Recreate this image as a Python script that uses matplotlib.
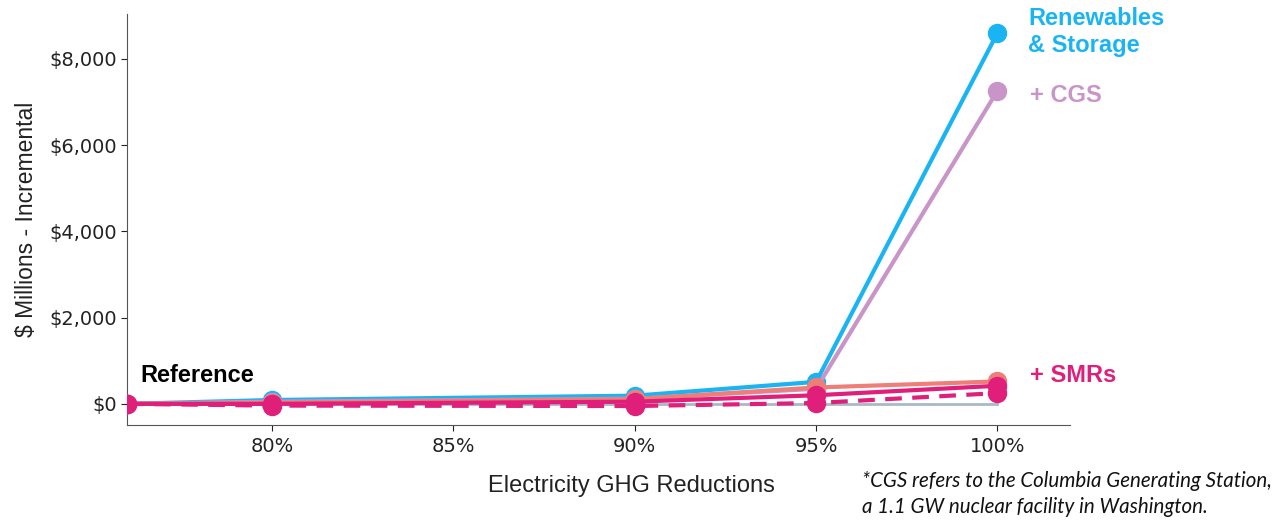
import matplotlib.pyplot as plt
from matplotlib.ticker import FuncFormatter

# x positions: first point is the reference case
reductions = [76, 80, 90, 95, 100]
tick_values = [80, 85, 90, 95, 100]
tick_labels = ["80%", "85%", "90%", "95%", "100%"]

reference = [0, 0, 0, 0, 0]
renewables_storage = [0, 90, 190, 510, 8600]
plus_cgs = [0, 50, 120, 350, 7260]
smr_a = [0, 30, 110, 380, 520]
smr_b = [0, 0, 50, 200, 420]
smr_c = [0, -40, -50, 20, 250]

blue = "#1AB4F3"
lilac = "#C994C8"
salmon = "#EE7E78"
magenta = "#E01F7B"
grey = "#A9B9C6"

fig = plt.figure(figsize=(12.86, 5.21), dpi=100)
ax = fig.add_axes([127 / 1286, 1 - 425 / 521, (1070 - 127) / 1286, (425 - 14) / 521])

ax.plot(reductions, reference, color=grey, lw=2, zorder=2)
ax.plot(reductions, renewables_storage, color=blue, lw=3, marker="o", ms=13, zorder=3)
ax.plot(reductions, plus_cgs, color=lilac, lw=3, marker="o", ms=13, zorder=4)
ax.plot(reductions, smr_a, color=salmon, lw=3, marker="o", ms=13, zorder=5)
ax.plot(reductions, smr_b, color=magenta, lw=3, marker="o", ms=13, zorder=6)
ax.plot(reductions, smr_c, color=magenta, lw=3, ls=(0, (4, 2.5)), marker="o", ms=13, zorder=7)

ax.set_xlim(76, 102)
ax.set_ylim(-490, 9040)
ax.set_xticks(tick_values)
ax.set_xticklabels(tick_labels)
ax.set_yticks([0, 2000, 4000, 6000, 8000])
ax.yaxis.set_major_formatter(FuncFormatter(lambda v, p: "${:,.0f}".format(v)))
ax.tick_params(labelsize=14, colors="#222222", length=4)
ax.tick_params(axis="x", pad=5)

for side in ["top", "right"]:
    ax.spines[side].set_visible(False)
for side in ["left", "bottom"]:
    ax.spines[side].set_color("#555555")

ax.set_xlabel("Electricity GHG Reductions", fontsize=17, family="Liberation Sans", color="#222222")
ax.xaxis.set_label_coords((631 - 127) / 943, (425 - 486) / 411)
ax.xaxis.label.set_va("center")
ax.set_ylabel("$ Millions - Incremental", fontsize=16.5, family="Liberation Sans", color="#222222", labelpad=8)

lab = dict(fontsize=17, fontweight="bold", family="Liberation Sans", va="center")
fig.text(140 / 1286, 1 - 375 / 521, "Reference", color="black", **lab)
fig.text(1028 / 1286, 1 - 32 / 521, "Renewables\n& Storage", color=blue, linespacing=1.2, **lab)
fig.text(1030 / 1286, 1 - 96 / 521, "+ CGS", color=lilac, **lab)
fig.text(1030 / 1286, 1 - 375 / 521, "+ SMRs", color=magenta, **lab)

fig.text(862 / 1286, 1 - 494 / 521,
         "*CGS refers to the Columbia Generating Station,\na 1.1 GW nuclear facility in Washington.",
         fontsize=14.8, style="italic", family="Lato", color="#111111", va="center", linespacing=1.35)

plt.savefig("out.png", dpi=100)
